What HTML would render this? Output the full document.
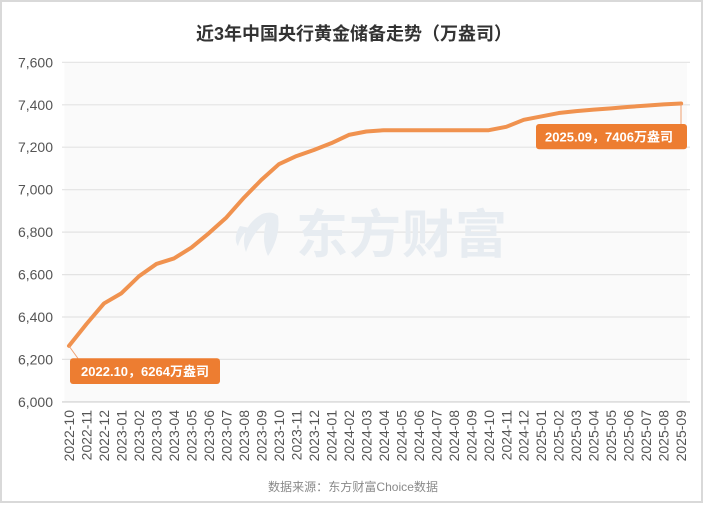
<!DOCTYPE html>
<html><head><meta charset="utf-8"><style>
html,body{margin:0;padding:0;background:#fff;}
svg{display:block;}
</style></head><body>
<svg width="705" height="505" viewBox="0 0 705 505" xmlns="http://www.w3.org/2000/svg" font-family="'Liberation Sans','Noto Sans CJK SC',sans-serif">
<rect x="0" y="0" width="705" height="505" fill="#fff"/>
<rect x="1" y="1" width="701" height="501" fill="none" stroke="#d9d9d9" stroke-width="2"/>
<text x="354" y="40" text-anchor="middle" font-size="18" font-weight="bold" fill="#333" font-family="'Liberation Sans','Noto Sans CJK SC',sans-serif">近3年中国央行黄金储备走势（万盎司）</text>
<rect x="64.5" y="62" width="622.5" height="340" fill="#fafafa"/>
<g stroke="#e3e3e3" stroke-width="1.2">
<line x1="62" y1="62.3" x2="690" y2="62.3"/>
<line x1="62" y1="104.8" x2="690" y2="104.8"/>
<line x1="62" y1="147.2" x2="690" y2="147.2"/>
<line x1="62" y1="189.7" x2="690" y2="189.7"/>
<line x1="62" y1="232.1" x2="690" y2="232.1"/>
<line x1="62" y1="274.6" x2="690" y2="274.6"/>
<line x1="62" y1="317" x2="690" y2="317"/>
<line x1="62" y1="359.4" x2="690" y2="359.4"/>
</g>
<line x1="62" y1="401.9" x2="690" y2="401.9" stroke="#d6d6d6" stroke-width="1.4"/>
<g font-size="14" fill="#555" text-anchor="end">
<text x="53" y="67.3">7,600</text>
<text x="53" y="109.8">7,400</text>
<text x="53" y="152.2">7,200</text>
<text x="53" y="194.7">7,000</text>
<text x="53" y="237.1">6,800</text>
<text x="53" y="279.6">6,600</text>
<text x="53" y="322">6,400</text>
<text x="53" y="364.4">6,200</text>
<text x="53" y="406.9">6,000</text>
</g>
<!-- watermark -->
<g fill="#e7ecf1">
<path d="M262 214 C248 222 240 236 246 252 C250 240 256 230 266 222 C264 232 262 242 268 256 C276 244 280 230 278 216 C274 212 268 212 262 214 Z"/>
<path d="M240 226 C236 232 234 240 238 246 C240 238 244 232 250 228 Z"/>
</g>
<text x="296" y="253" font-size="52" font-weight="bold" fill="#e7ecf1" font-family="'Noto Sans CJK SC','WenQuanYi Zen Hei',sans-serif" letter-spacing="1">东方财富</text>
<!-- series -->
<polyline fill="none" stroke="#f0924f" stroke-width="4" stroke-linejoin="round" stroke-linecap="round" points="69,345.87 86.49,324 103.98,303.42 121.47,293.23 138.96,276.25 156.45,263.94 173.94,258.42 191.43,247.59 208.92,233.16 226.41,217.45 243.9,197.72 261.39,179.89 278.88,164.18 296.37,156.11 313.86,149.96 331.35,143.17 348.84,134.89 366.33,131.49 383.82,130.22 401.31,130.22 418.8,130.22 436.29,130.22 453.78,130.22 471.27,130.22 488.76,130.22 506.25,126.82 523.74,119.82 541.23,116.42 558.72,113.03 576.21,111.12 593.7,109.63 611.19,108.36 628.68,106.87 646.17,105.6 663.66,104.33 681.15,103.48"/>
<!-- annotations -->
<line x1="69" y1="346" x2="78" y2="358.5" stroke="#f0a070" stroke-width="1"/>
<rect x="70" y="358.3" width="150" height="25.7" rx="3" fill="#ed7d31"/>
<text x="145" y="376" text-anchor="middle" font-size="13" font-weight="bold" fill="#fff">2022.10，6264万盎司</text>
<line x1="681" y1="104" x2="681" y2="124.5" stroke="#f0a070" stroke-width="1"/>
<rect x="536" y="124" width="151" height="25.3" rx="3" fill="#ed7d31"/>
<text x="609" y="141.5" text-anchor="middle" font-size="13" font-weight="bold" fill="#fff">2025.09，7406万盎司</text>
<!-- x labels -->
<g font-size="14" fill="#555" text-anchor="end">
<text transform="translate(74,410) rotate(-90)">2022-10</text>
<text transform="translate(91.49,410) rotate(-90)">2022-11</text>
<text transform="translate(108.98,410) rotate(-90)">2022-12</text>
<text transform="translate(126.47,410) rotate(-90)">2023-01</text>
<text transform="translate(143.96,410) rotate(-90)">2023-02</text>
<text transform="translate(161.45,410) rotate(-90)">2023-03</text>
<text transform="translate(178.94,410) rotate(-90)">2023-04</text>
<text transform="translate(196.43,410) rotate(-90)">2023-05</text>
<text transform="translate(213.92,410) rotate(-90)">2023-06</text>
<text transform="translate(231.41,410) rotate(-90)">2023-07</text>
<text transform="translate(248.9,410) rotate(-90)">2023-08</text>
<text transform="translate(266.39,410) rotate(-90)">2023-09</text>
<text transform="translate(283.88,410) rotate(-90)">2023-10</text>
<text transform="translate(301.37,410) rotate(-90)">2023-11</text>
<text transform="translate(318.86,410) rotate(-90)">2023-12</text>
<text transform="translate(336.35,410) rotate(-90)">2024-01</text>
<text transform="translate(353.84,410) rotate(-90)">2024-02</text>
<text transform="translate(371.33,410) rotate(-90)">2024-03</text>
<text transform="translate(388.82,410) rotate(-90)">2024-04</text>
<text transform="translate(406.31,410) rotate(-90)">2024-05</text>
<text transform="translate(423.8,410) rotate(-90)">2024-06</text>
<text transform="translate(441.29,410) rotate(-90)">2024-07</text>
<text transform="translate(458.78,410) rotate(-90)">2024-08</text>
<text transform="translate(476.27,410) rotate(-90)">2024-09</text>
<text transform="translate(493.76,410) rotate(-90)">2024-10</text>
<text transform="translate(511.25,410) rotate(-90)">2024-11</text>
<text transform="translate(528.74,410) rotate(-90)">2024-12</text>
<text transform="translate(546.23,410) rotate(-90)">2025-01</text>
<text transform="translate(563.72,410) rotate(-90)">2025-02</text>
<text transform="translate(581.21,410) rotate(-90)">2025-03</text>
<text transform="translate(598.7,410) rotate(-90)">2025-04</text>
<text transform="translate(616.19,410) rotate(-90)">2025-05</text>
<text transform="translate(633.68,410) rotate(-90)">2025-06</text>
<text transform="translate(651.17,410) rotate(-90)">2025-07</text>
<text transform="translate(668.66,410) rotate(-90)">2025-08</text>
<text transform="translate(686.15,410) rotate(-90)">2025-09</text>
</g>
<text x="353" y="491" text-anchor="middle" font-size="12" fill="#8a8a8a" textLength="170" lengthAdjust="spacingAndGlyphs">数据来源：东方财富Choice数据</text>
</svg>
</body></html>
